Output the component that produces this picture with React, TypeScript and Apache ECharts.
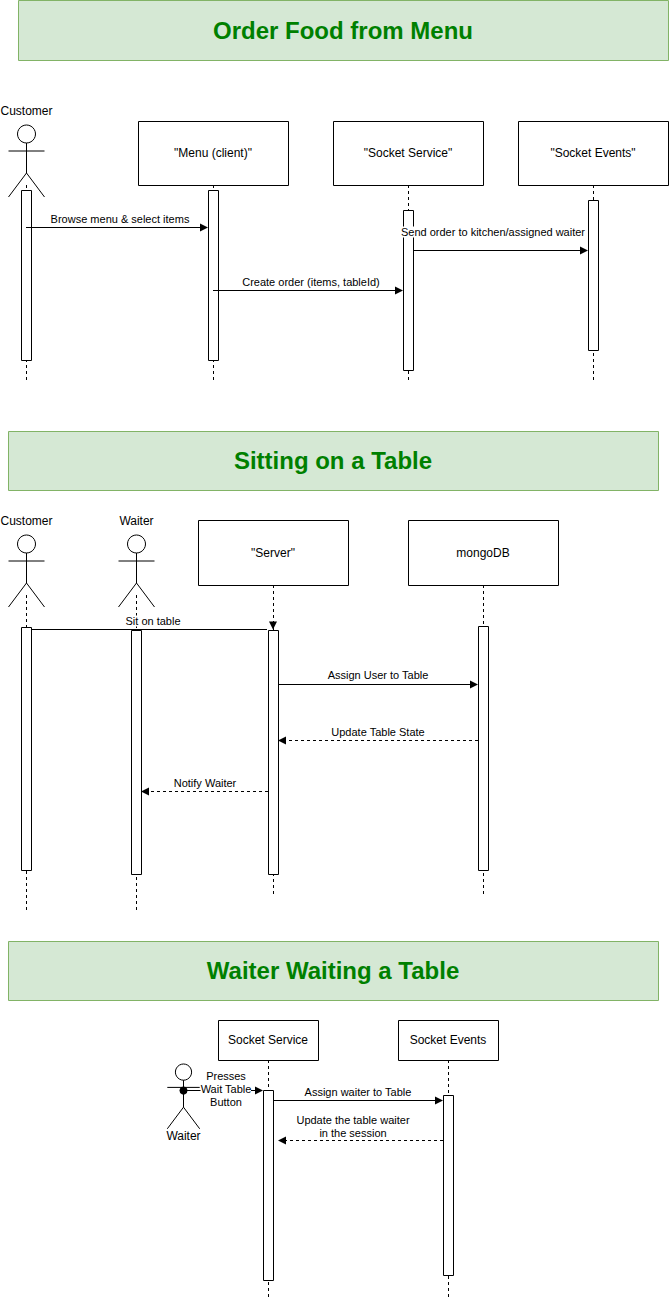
import React, { useEffect, useRef } from "react";
import * as echarts from "echarts";

const banners = [
  { text: "Order Food from Menu", x: 18, y: 0, w: 650, h: 60 },
  { text: "Sitting on a Table", x: 8, y: 431, w: 650, h: 59 },
  { text: "Waiter Waiting a Table", x: 8, y: 941, w: 650, h: 59 },
];
const boxes = [
  { text: "\"Menu (client)\"", x: 138, y: 121, w: 150, h: 64 },
  { text: "\"Socket Service\"", x: 333, y: 121, w: 150, h: 64 },
  { text: "\"Socket Events\"", x: 518, y: 121, w: 150, h: 64 },
  { text: "\"Server\"", x: 198, y: 520, w: 150, h: 65 },
  { text: "mongoDB", x: 408, y: 520, w: 150, h: 65 },
  { text: "Socket Service", x: 218, y: 1020, w: 100, h: 40 },
  { text: "Socket Events", x: 398, y: 1020, w: 100, h: 40 },
];
const actors = [
  { text: "Customer", cx: 26, top: 121, s: 1, above: true },
  { text: "Customer", cx: 26, top: 531, s: 1, above: true },
  { text: "Waiter", cx: 136, top: 531, s: 1, above: true },
  { text: "Waiter", cx: 183, top: 1060, s: 0.9, above: false },
];
const lifelines = [
  [26, 185, 380], [213, 185, 380], [408, 185, 380], [593, 185, 380],
  [26, 595, 910], [136, 595, 910], [273, 585, 895], [483, 585, 895],
  [268, 1060, 1300], [448, 1060, 1300],
];
const activations = [
  [26, 190, 360], [213, 190, 360], [408, 210, 370], [593, 200, 350],
  [26, 627, 870], [136, 630, 874], [273, 630, 874], [483, 626, 870],
  [268, 1090, 1280], [448, 1095, 1275],
];
const messages = [
  { text: ["Browse menu & select items"], x1: 26, x2: 208, y: 227, dashed: false, lx: 120, ly: 219 },
  { text: ["Send order to kitchen/assigned waiter"], x1: 413, x2: 588, y: 250, dashed: false, lx: 493, ly: 232 },
  { text: ["Create order (items, tableId)"], x1: 213, x2: 403, y: 290, dashed: false, lx: 311, ly: 282 },
  { text: ["Sit on table"], x1: 31, x2: 273, y: 629, dashed: false, lx: 153, ly: 621, down: true },
  { text: ["Assign User to Table"], x1: 278, x2: 478, y: 684, dashed: false, lx: 378, ly: 675 },
  { text: ["Update Table State"], x1: 478, x2: 278, y: 740, dashed: true, lx: 378, ly: 732 },
  { text: ["Notify Waiter"], x1: 268, x2: 141, y: 791, dashed: true, lx: 205, ly: 783 },
  { text: ["Assign waiter to Table"], x1: 273, x2: 443, y: 1100, dashed: false, lx: 358, ly: 1092 },
  { text: ["Update the table waiter", "in the session"], x1: 443, x2: 278, y: 1140, dashed: true, lx: 353, ly: 1120 },
];
const foundLabel = ["Presses", "Wait Table", "Button"];

const FONT = "Liberation Sans, Arial, Helvetica, sans-serif";

function arrowHead(x: number, y: number, dir: number, down = false) {
  if (down) return { type: "polygon", shape: { points: [[x - 4, y - 8], [x + 4, y - 8], [x, y]] }, style: { fill: "#000" } };
  return { type: "polygon", shape: { points: [[x, y], [x - dir * 8, y - 4], [x - dir * 8, y + 4]] }, style: { fill: "#000" } };
}

function label(lines: string[], x: number, y: number, g: any[]) {
  lines.forEach((t, i) => {
    g.push({ type: "text", x, y: y + i * 13, style: { text: t, fill: "#000", font: `11px ${FONT}`, align: "center", verticalAlign: "middle", backgroundColor: "#fff" } });
  });
}

function buildGraphics() {
  const g: any[] = [];
  banners.forEach((b) => {
    g.push({ type: "rect", shape: { x: b.x + 0.5, y: b.y + 0.5, width: b.w, height: b.h }, style: { fill: "#d5e8d4", stroke: "#82b366", lineWidth: 1 } });
    g.push({ type: "text", x: b.x + b.w / 2, y: b.y + b.h / 2, style: { text: b.text, fill: "#008000", font: `bold 24px ${FONT}`, align: "center", verticalAlign: "middle" } });
  });
  lifelines.forEach(([x, y1, y2]) => {
    g.push({ type: "line", shape: { x1: x + 0.5, y1, x2: x + 0.5, y2 }, style: { stroke: "#000", lineWidth: 1, lineDash: [3, 3] } });
  });
  boxes.forEach((b) => {
    g.push({ type: "rect", shape: { x: b.x + 0.5, y: b.y + 0.5, width: b.w, height: b.h }, style: { fill: "#fff", stroke: "#000", lineWidth: 1 } });
    g.push({ type: "text", x: b.x + b.w / 2, y: b.y + b.h / 2, style: { text: b.text, fill: "#000", font: `12px ${FONT}`, align: "center", verticalAlign: "middle" } });
  });
  actors.forEach((a) => {
    const s = a.s, cx = a.cx + 0.5, t = a.top;
    const r = 9 * s;
    g.push({ type: "circle", shape: { cx, cy: t + r + 4, r }, style: { fill: "#fff", stroke: "#000", lineWidth: 1 } });
    const neck = t + 2 * r + 4;
    const armY = neck + 8 * s;
    const hip = neck + 30 * s;
    g.push({ type: "line", shape: { x1: cx, y1: neck, x2: cx, y2: hip }, style: { stroke: "#000" } });
    g.push({ type: "line", shape: { x1: cx - 18 * s, y1: armY, x2: cx + 18 * s, y2: armY }, style: { stroke: "#000" } });
    g.push({ type: "polyline", shape: { points: [[cx - 18 * s, hip + 24 * s], [cx, hip], [cx + 18 * s, hip + 24 * s]] }, style: { stroke: "#000", fill: "none" } });
    g.push({ type: "text", x: cx, y: a.above ? t - 4 : hip + 32 * s, style: { text: a.text, fill: "#000", font: `12px ${FONT}`, align: "center", verticalAlign: a.above ? "bottom" : "middle" } });
  });
  activations.forEach(([cx, y1, y2]) => {
    g.push({ type: "rect", shape: { x: cx - 5 + 0.5, y: y1 + 0.5, width: 10, height: y2 - y1 }, style: { fill: "#fff", stroke: "#000", lineWidth: 1 } });
  });
  messages.forEach((m: any) => {
    const dir = m.x2 > m.x1 ? 1 : -1;
    const y = m.y + 0.5;
    g.push({ type: "line", shape: { x1: m.x1, y1: y, x2: m.x2 - dir * 6, y2: y }, style: { stroke: "#000", lineWidth: 1, lineDash: m.dashed ? [3, 3] : null } });
    g.push(arrowHead(m.x2, y, dir, !!m.down));
    label(m.text, m.lx, m.ly, g);
  });
  g.push({ type: "line", shape: { x1: 183.5, y1: 1090.5, x2: 257, y2: 1090.5 }, style: { stroke: "#000" } });
  g.push(arrowHead(263, 1090.5, 1));
  label(foundLabel, 226, 1076, g);
  g.push({ type: "line", shape: { x1: 183.5, y1: 1090.5, x2: 200, y2: 1090.5 }, style: { stroke: "#000" } });
  g.push({ type: "line", shape: { x1: 251, y1: 1090.5, x2: 257, y2: 1090.5 }, style: { stroke: "#000" } });
  g.push({ type: "circle", shape: { cx: 183.5, cy: 1090.5, r: 4 }, style: { fill: "#000" } });
  return g;
}

export default function App() {
  const ref = useRef<HTMLDivElement>(null);
  useEffect(() => {
    document.body.style.margin = "0";
    const chart = echarts.init(ref.current!, null, { renderer: "svg" });
    chart.setOption({ animation: false, backgroundColor: "#fff", graphic: { elements: buildGraphics() } });
    return () => chart.dispose();
  }, []);
  return <div ref={ref} style={{ width: 669, height: 1301 }} />;
}
